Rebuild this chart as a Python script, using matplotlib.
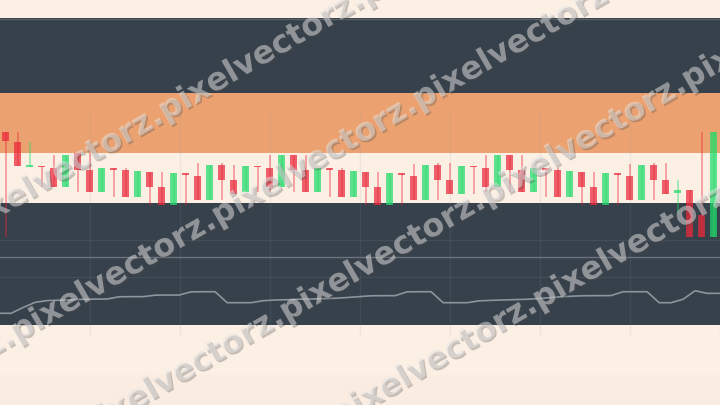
import numpy as np
import matplotlib
matplotlib.use("Agg")
import matplotlib.pyplot as plt
import matplotlib.patheffects as pe

# candle data (arbitrary price units), one per bar
opens = [64.2, 59.2, 46.5, 47.2, 46.0, 36.7, 53.4, 45.0, 34.2, 45.9,
         45.0, 31.4, 44.2, 36.7, 27.5, 43.4, 42.0, 30.0, 47.5, 40.0,
         34.2, 47.2, 46.0, 36.7, 52.5, 45.0, 34.2, 45.9, 45.0, 31.4,
         44.2, 36.7, 27.5, 43.4, 42.0, 30.0, 47.5, 40.0, 33.0, 47.2,
         46.0, 36.7, 52.5, 45.0, 34.2, 45.9, 45.0, 31.4, 44.2, 36.7,
         27.5, 43.4, 42.0, 30.0, 47.5, 40.0, 33.4, 35.0, 22.5, 11.7]
highs = [64.2, 64.2, 59.2, 47.2, 52.5, 52.5, 53.4, 53.4, 45.9, 45.9,
         46.0, 44.5, 44.2, 44.2, 43.4, 43.4, 48.4, 47.5, 48.4, 47.5,
         47.2, 47.2, 52.5, 52.5, 52.5, 52.5, 45.9, 45.9, 46.0, 44.5,
         44.2, 44.2, 43.4, 43.4, 48.0, 47.5, 48.4, 48.4, 47.2, 47.2,
         52.5, 52.5, 52.5, 52.5, 45.9, 45.9, 46.0, 44.5, 44.2, 44.2,
         43.4, 43.4, 48.0, 47.5, 48.4, 48.4, 40.0, 35.0, 64.2, 64.2]
lows = [11.5, 47.2, 46.5, 36.7, 36.7, 36.7, 34.2, 34.2, 34.2, 31.4,
        31.4, 31.4, 27.5, 27.5, 27.5, 27.5, 30.0, 30.0, 30.0, 33.0,
        34.2, 34.2, 34.2, 36.7, 34.2, 34.2, 34.2, 31.4, 31.4, 31.4,
        27.5, 27.5, 27.5, 27.5, 30.0, 30.0, 30.0, 33.0, 33.0, 33.0,
        34.2, 36.7, 34.2, 34.2, 34.2, 31.4, 31.4, 31.4, 27.5, 27.5,
        27.5, 27.5, 30.0, 30.0, 30.0, 33.0, 23.5, 11.7, 11.7, 11.7]
closes = [59.5, 47.2, 47.2, 46.3, 36.7, 52.5, 45.0, 34.2, 45.9, 45.0,
          31.4, 44.5, 36.7, 27.5, 43.4, 42.5, 30.0, 47.5, 40.0, 33.0,
          47.2, 46.4, 36.7, 52.5, 45.0, 34.2, 45.9, 45.0, 31.4, 44.5,
          36.7, 27.5, 43.4, 42.5, 30.0, 47.5, 40.0, 33.0, 47.2, 46.4,
          36.7, 52.5, 45.0, 34.2, 45.9, 45.0, 31.4, 44.5, 36.7, 27.5,
          43.4, 42.5, 30.0, 47.5, 40.0, 33.0, 35.0, 11.7, 11.7, 64.2]

# oscillator in the lower pane, starts one bar before the first candle
osc = [0.5, 0.5, 5.2, 9.4, 10.8, 11.1, 11.4, 11.9, 12.0, 12.1,
       13.9, 14.0, 14.0, 15.2, 15.3, 15.3, 17.9, 18.0, 18.0, 9.1,
       9.1, 9.1, 10.7, 11.3, 11.5, 11.9, 12.1, 12.4, 12.7, 13.3,
       14.0, 14.7, 14.8, 14.8, 17.9, 18.0, 18.0, 9.1, 9.1, 9.1,
       10.6, 11.0, 11.3, 11.6, 11.9, 12.5, 13.3, 14.0, 14.5, 14.8,
       14.8, 14.9, 18.0, 18.0, 18.0, 9.1, 9.1, 11.9, 18.8, 16.7, 16.7]
osc_level = 46
osc_ticks = [30, 60]

watermark = "pixelvectorz."

CREAM = "#fcefe4"
DARK = "#37414b"
ORANGE = "#eca270"
RED = "#eb283b"
GREEN = "#21db6a"

W, H = 720, 405
fig = plt.figure(figsize=(7.2, 4.05), dpi=100)
fig.patch.set_facecolor(CREAM)

# background bands (pixel coords)
bg = fig.add_axes([0, 0, 1, 1])
bg.set_xlim(0, W)
bg.set_ylim(H, 0)
bg.axis("off")
for y0, y1, c in [(0, 18, CREAM), (18, 93, DARK), (93, 153, ORANGE),
                  (153, 203, CREAM), (325, 375, CREAM), (375, 405, "#fbece1")]:
    bg.axhspan(y0, y1, color=c, lw=0)
bg.axhline(18.5, color="#5a6169", lw=1)

xlim = (-0.475, 59.525)

# lower indicator pane
pane = fig.add_axes([0, (H - 325) / H, 1, 122 / H])
pane.set_facecolor(DARK)
pane.set_xlim(*xlim)
pane.set_ylim(-9, 90)
for s in pane.spines.values():
    s.set_visible(False)
pane.set_xticks([])
pane.set_yticks(osc_ticks)
pane.tick_params(left=False, labelleft=False)
pane.grid(axis="y", color="#434d57", lw=0.9)
pane.axhline(osc_level, color="#6b747c", lw=1)
pane.plot(np.arange(-1, 60) + 0.45, osc, color="#8c959c", lw=1.2)

# candles
ax = fig.add_axes([0, 0, 1, 1])
ax.patch.set_alpha(0)
ax.set_xlim(*xlim)
ax.set_ylim(-72.5, 130)
ax.axis("off")

x = np.arange(len(opens))
o = np.array(opens)
c = np.array(closes)
up = c >= o
cols = np.where(up, GREEN, RED)

gx = np.arange(7.025, 60, 7.5)
ax.vlines(gx, -37.5, 75, color="#8f99a1", alpha=0.12, lw=1)

ax.vlines(x, lows, highs, colors=cols, alpha=0.5, lw=1.1)
bottoms = np.minimum(o, c)
heights = np.maximum(np.abs(c - o), 0.8)
ax.bar(x, heights, bottom=bottoms, width=0.55, color=cols, alpha=0.72, lw=0)

# watermark rows: start x (px) and y (px) of each diagonal row
rows_x = [-40, -188, -120, -68]
rows_y = [230, 451, 547, 651]
for wx, wy in zip(rows_x, rows_y):
    fig.text(wx / W, 1 - wy / H, watermark * 6, rotation=30,
             rotation_mode="anchor", ha="left", va="center",
             fontsize=23, fontweight="bold", color="#e4e4e4", alpha=0.5,
             path_effects=[pe.withSimplePatchShadow(offset=(1.2, -1.2),
                                                    shadow_rgbFace="#4a4a4a",
                                                    alpha=0.3)])

fig.savefig("out.png", dpi=100)
